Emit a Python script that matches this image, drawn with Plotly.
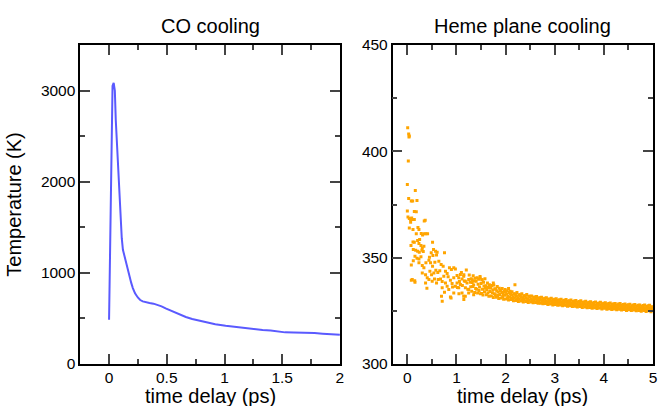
import plotly.graph_objects as go

# ---------------- data ----------------
# Left panel: CO cooling (line)
co_time = [0.0, 0.015, 0.03, 0.04, 0.05, 0.058, 0.068, 0.078, 0.088, 0.098, 0.11, 0.12,
           0.135, 0.15, 0.165, 0.178, 0.192, 0.206, 0.225, 0.249, 0.27, 0.292, 0.32, 0.35,
           0.385, 0.42, 0.455, 0.49, 0.55, 0.61, 0.665, 0.72, 0.78, 0.84, 0.92, 1.01,
           1.1, 1.18, 1.267, 1.33, 1.4, 1.46, 1.525, 1.6, 1.65, 1.72, 1.78, 1.85, 1.9, 1.95, 2.0]
co_temp = [486, 1800, 3050, 3085, 3000, 2680, 2400, 2130, 1880, 1620, 1380, 1253,
           1170, 1107, 1030, 961, 890, 833, 775, 730, 702, 687, 676, 669,
           662, 650, 632, 610, 575, 541, 516, 493, 474, 456, 437, 420,
           405, 392, 378, 372, 368, 357, 347, 345, 345, 342, 340, 333, 327, 323, 321]

# Right panel: heme plane cooling (scatter), early sparse region
heme_early_time = [0.007, 0.027, 0.04, 0.034, 0.02, 0.0, 0.162, 0.027, 0.081, 0.108, 0.196, 0.0,
                   0.142, 0.182, 0.013, 0.04, 0.067, 0.088, 0.121, 0.142, 0.067, 0.344, 0.364,
                   0.04, 0.115, 0.216, 0.236, 0.182, 0.283, 0.31, 0.344, 0.378, 0.412, 0.115,
                   0.142, 0.074, 0.209, 0.236, 0.277, 0.304, 0.337, 0.513, 0.121, 0.169, 0.209,
                   0.243, 0.297, 0.324, 0.533, 0.574, 0.607, 0.594, 0.155, 0.196, 0.236, 0.277,
                   0.486, 0.081, 0.121, 0.236, 0.304, 0.337, 0.378, 0.439, 0.472, 0.513, 0.56,
                   0.641, 0.756, 0.688, 0.729, 0.081, 0.155, 0.304, 0.371, 0.405, 0.459, 0.493,
                   0.54, 0.371, 0.398, 0.439, 0.506, 0.553, 0.594, 0.628, 0.675, 0.709, 0.742,
                   0.776, 0.81, 0.857, 0.897, 0.945, 0.978, 0.709, 0.756, 0.695, 0.81, 0.877,
                   0.911, 0.945, 1.012, 1.046, 1.08, 1.113, 1.147, 1.181, 1.215, 1.248, 1.282,
                   0.877, 0.978, 1.046, 1.113, 1.147, 1.181, 1.248, 1.08, 1.012, 0.776, 0.843,
                   0.945, 0.1, 0.15, 0.71, 0.89, 1.15, 1.02, 1.06, 1.1, 1.12, 1.16, 1.2, 1.23,
                   1.26, 1.29, 1.05, 1.15, 1.32, 1.48, 1.52, 1.25, 1.18, 1.35, 1.75, 2.06, 2.19,
                   0.25, 0.45, 0.58, 0.62, 0.83, 0.92, 0.66, 0.52]
heme_early_temp = [411.1, 408.1, 407.2, 406.7, 395.4, 384.4, 381.6, 377.8, 376.6, 376.6, 376.9, 371.9,
                   371.7, 371.6, 369.1, 368.4, 368.0, 368.6, 368.0, 368.0, 366.7, 367.2, 367.6,
                   364.0, 363.2, 364.2, 363.2, 361.2, 361.4, 360.6, 361.2, 361.2, 361.2, 357.4,
                   357.3, 355.7, 358.1, 356.7, 355.7, 354.6, 355.4, 357.3, 353.8, 353.5, 353.0,
                   352.6, 353.5, 352.9, 353.8, 353.0, 352.6, 351.3, 350.7, 349.7, 349.4, 350.4,
                   352.3, 346.6, 348.5, 347.6, 346.3, 345.2, 347.6, 348.8, 347.6, 346.0, 347.9,
                   348.3, 352.3, 346.8, 346.0, 339.4, 338.4, 342.8, 342.0, 340.5, 343.6, 342.0,
                   342.8, 338.1, 335.6, 339.7, 338.9, 340.0, 338.1, 339.7, 340.0, 338.8, 341.3,
                   343.6, 342.5, 345.2, 344.4, 345.2, 344.7, 335.8, 333.7, 331.9, 336.6, 339.4,
                   337.8, 340.5, 341.6, 340.5, 342.1, 340.0, 341.3, 338.9, 338.1, 339.7, 338.4,
                   331.5, 336.6, 335.8, 333.4, 331.9, 335.8, 333.4, 337.4, 338.1, 338.1, 335.0,
                   333.4, 339.7, 339.2, 329.5, 331.0, 330.3, 336.0, 338.8, 343.0, 336.9, 339.0, 344.2, 335.2,
                   341.8, 336.3, 333.0, 342.0, 339.6, 340.4, 339.6, 335.0, 331.9, 332.6, 338.1, 335.5, 337.3,
                   358.5, 350.2, 344.1, 343.0, 341.0, 336.2, 343.9, 351.0]

# Right panel: dense band (x from 1.30 to 5.00 in steps of 0.01)
heme_band_time = [
    1.30, 1.31, 1.32, 1.33, 1.34, 1.35, 1.36, 1.37, 1.38, 1.39,
    1.40, 1.41, 1.42, 1.43, 1.44, 1.45, 1.46, 1.47, 1.48, 1.49,
    1.50, 1.51, 1.52, 1.53, 1.54, 1.55, 1.56, 1.57, 1.58, 1.59,
    1.60, 1.61, 1.62, 1.63, 1.64, 1.65, 1.66, 1.67, 1.68, 1.69,
    1.70, 1.71, 1.72, 1.73, 1.74, 1.75, 1.76, 1.77, 1.78, 1.79,
    1.80, 1.81, 1.82, 1.83, 1.84, 1.85, 1.86, 1.87, 1.88, 1.89,
    1.90, 1.91, 1.92, 1.93, 1.94, 1.95, 1.96, 1.97, 1.98, 1.99,
    2.00, 2.01, 2.02, 2.03, 2.04, 2.05, 2.06, 2.07, 2.08, 2.09,
    2.10, 2.11, 2.12, 2.13, 2.14, 2.15, 2.16, 2.17, 2.18, 2.19,
    2.20, 2.21, 2.22, 2.23, 2.24, 2.25, 2.26, 2.27, 2.28, 2.29,
    2.30, 2.31, 2.32, 2.33, 2.34, 2.35, 2.36, 2.37, 2.38, 2.39,
    2.40, 2.41, 2.42, 2.43, 2.44, 2.45, 2.46, 2.47, 2.48, 2.49,
    2.50, 2.51, 2.52, 2.53, 2.54, 2.55, 2.56, 2.57, 2.58, 2.59,
    2.60, 2.61, 2.62, 2.63, 2.64, 2.65, 2.66, 2.67, 2.68, 2.69,
    2.70, 2.71, 2.72, 2.73, 2.74, 2.75, 2.76, 2.77, 2.78, 2.79,
    2.80, 2.81, 2.82, 2.83, 2.84, 2.85, 2.86, 2.87, 2.88, 2.89,
    2.90, 2.91, 2.92, 2.93, 2.94, 2.95, 2.96, 2.97, 2.98, 2.99,
    3.00, 3.01, 3.02, 3.03, 3.04, 3.05, 3.06, 3.07, 3.08, 3.09,
    3.10, 3.11, 3.12, 3.13, 3.14, 3.15, 3.16, 3.17, 3.18, 3.19,
    3.20, 3.21, 3.22, 3.23, 3.24, 3.25, 3.26, 3.27, 3.28, 3.29,
    3.30, 3.31, 3.32, 3.33, 3.34, 3.35, 3.36, 3.37, 3.38, 3.39,
    3.40, 3.41, 3.42, 3.43, 3.44, 3.45, 3.46, 3.47, 3.48, 3.49,
    3.50, 3.51, 3.52, 3.53, 3.54, 3.55, 3.56, 3.57, 3.58, 3.59,
    3.60, 3.61, 3.62, 3.63, 3.64, 3.65, 3.66, 3.67, 3.68, 3.69,
    3.70, 3.71, 3.72, 3.73, 3.74, 3.75, 3.76, 3.77, 3.78, 3.79,
    3.80, 3.81, 3.82, 3.83, 3.84, 3.85, 3.86, 3.87, 3.88, 3.89,
    3.90, 3.91, 3.92, 3.93, 3.94, 3.95, 3.96, 3.97, 3.98, 3.99,
    4.00, 4.01, 4.02, 4.03, 4.04, 4.05, 4.06, 4.07, 4.08, 4.09,
    4.10, 4.11, 4.12, 4.13, 4.14, 4.15, 4.16, 4.17, 4.18, 4.19,
    4.20, 4.21, 4.22, 4.23, 4.24, 4.25, 4.26, 4.27, 4.28, 4.29,
    4.30, 4.31, 4.32, 4.33, 4.34, 4.35, 4.36, 4.37, 4.38, 4.39,
    4.40, 4.41, 4.42, 4.43, 4.44, 4.45, 4.46, 4.47, 4.48, 4.49,
    4.50, 4.51, 4.52, 4.53, 4.54, 4.55, 4.56, 4.57, 4.58, 4.59,
    4.60, 4.61, 4.62, 4.63, 4.64, 4.65, 4.66, 4.67, 4.68, 4.69,
    4.70, 4.71, 4.72, 4.73, 4.74, 4.75, 4.76, 4.77, 4.78, 4.79,
    4.80, 4.81, 4.82, 4.83, 4.84, 4.85, 4.86, 4.87, 4.88, 4.89,
    4.90, 4.91, 4.92, 4.93, 4.94, 4.95, 4.96, 4.97, 4.98, 4.99,
    5.00]
heme_band_temp = [
    340.1, 334.2, 338.3, 336.4, 341.5, 337.2, 339.0, 333.6, 340.3, 335.5,
    338.9, 335.1, 340.6, 333.4, 337.5, 339.8, 334.6, 336.2, 341.2, 333.0,
    337.9, 333.1, 339.6, 335.2, 332.4, 338.4, 336.7, 334.0, 340.1, 335.6,
    336.8, 332.6, 334.9, 338.1, 333.4, 336.0, 331.9, 337.3, 334.1, 335.7,
    335.9, 332.0, 336.9, 333.5, 334.8, 331.3, 337.2, 333.0, 335.4, 332.6,
    335.1, 331.4, 334.3, 336.4, 332.2, 333.9, 330.8, 335.6, 332.7, 334.6,
    334.8, 331.0, 333.6, 335.5, 331.7, 333.1, 330.4, 334.2, 332.3, 335.0,
    333.9, 330.6, 332.8, 334.5, 331.2, 332.0, 330.1, 333.6, 331.5, 334.2,
    333.2, 330.3, 332.5, 334.0, 330.8, 331.6, 329.7, 333.0, 331.1, 332.8,
    332.9, 329.9, 331.8, 333.6, 330.4, 331.2, 329.4, 332.6, 330.7, 332.2,
    332.6, 329.6, 331.4, 333.0, 330.1, 330.8, 329.2, 332.1, 330.3, 331.8,
    332.1, 329.4, 331.0, 332.7, 329.8, 330.5, 328.9, 331.8, 330.1, 331.5,
    331.8, 329.2, 330.6, 332.0, 329.5, 330.2, 328.8, 331.4, 329.9, 331.1,
    331.5, 328.9, 330.4, 331.7, 329.2, 329.9, 328.6, 331.0, 329.6, 330.8,
    331.2, 328.6, 330.1, 331.4, 328.9, 329.6, 328.3, 330.7, 329.3, 330.5,
    330.9, 328.4, 329.8, 331.1, 328.6, 329.3, 328.0, 330.4, 329.0, 330.2,
    330.6, 328.2, 329.6, 330.9, 328.4, 329.1, 327.8, 330.2, 328.8, 330.0,
    330.4, 328.0, 329.4, 330.7, 328.2, 328.9, 327.6, 330.0, 328.6, 329.8,
    330.2, 327.8, 329.2, 330.5, 328.0, 328.7, 327.4, 329.8, 328.4, 329.6,
    330.0, 327.6, 329.0, 330.3, 327.8, 328.5, 327.2, 329.6, 328.2, 329.4,
    329.8, 327.4, 328.8, 330.1, 327.6, 328.3, 327.0, 329.4, 328.0, 329.2,
    329.6, 327.2, 328.6, 329.9, 327.4, 328.1, 326.8, 329.2, 327.8, 329.0,
    329.4, 327.0, 328.4, 329.7, 327.2, 327.9, 326.6, 329.0, 327.6, 328.8,
    329.2, 326.8, 328.2, 329.5, 327.0, 327.7, 326.4, 328.8, 327.4, 328.6,
    329.0, 326.6, 328.0, 329.3, 326.8, 327.5, 326.2, 328.6, 327.2, 328.4,
    328.9, 326.5, 327.8, 329.1, 326.7, 327.3, 326.1, 328.4, 327.0, 328.2,
    328.7, 326.3, 327.7, 329.0, 326.5, 327.2, 325.9, 328.3, 326.9, 328.1,
    328.6, 326.2, 327.5, 328.8, 326.4, 327.0, 325.8, 328.1, 326.7, 327.9,
    328.4, 326.0, 327.4, 328.7, 326.2, 326.9, 325.6, 328.0, 326.6, 327.8,
    328.3, 325.9, 327.2, 328.5, 326.1, 326.8, 325.5, 327.8, 326.4, 327.6,
    328.2, 325.8, 327.1, 328.4, 326.0, 326.7, 325.4, 327.7, 326.3, 327.5,
    328.0, 325.6, 327.0, 328.2, 325.8, 326.5, 325.2, 327.6, 326.2, 327.4,
    327.9, 325.5, 326.8, 328.1, 325.7, 326.4, 325.1, 327.4, 326.0, 327.2,
    327.8, 325.4, 326.7, 328.0, 325.6, 326.3, 325.0, 327.3, 325.9, 327.1,
    327.6, 325.2, 326.6, 327.8, 325.4, 326.1, 324.8, 327.2, 325.8, 327.0,
    327.5, 325.1, 326.4, 327.7, 325.3, 326.0, 324.7, 327.0, 325.6, 326.8,
    327.4, 325.0, 326.3, 327.6, 325.2, 325.9, 324.6, 326.9, 325.5, 326.7,
    326.2]

titles = ["CO cooling", "Heme plane cooling"]
x_title = "time delay (ps)"
y_title = "Temperature (K)"

# ---------------- styling ----------------
W, H = 659, 406
PLOT_H = 406 - 45 - 42
FONT = "Liberation Sans, Arial, Helvetica, sans-serif"
BLUE = "#5a5aff"
ORANGE = "#ffa500"
TICKC = "#444444"

fig = go.Figure()
fig.add_trace(go.Scatter(x=co_time, y=co_temp, mode="lines",
                         line=dict(color=BLUE, width=2), xaxis="x", yaxis="y",
                         showlegend=False))
fig.add_trace(go.Scatter(x=heme_early_time + heme_band_time,
                         y=heme_early_temp + heme_band_temp, mode="markers",
                         marker=dict(color=ORANGE, size=3, symbol="square",
                                     line=dict(width=0)),
                         xaxis="x2", yaxis="y2", showlegend=False))

def axis_style(**kw):
    d = dict(showline=True, linecolor="black", linewidth=1.5, mirror="allticks",
             ticks="inside", ticklen=10, tickwidth=1.5, tickcolor=TICKC,
             showgrid=False, zeroline=False,
             tickfont=dict(family=FONT, size=15.5, color="black"))
    d.update(kw)
    return d

left_dom = [80.7 / W, 342 / W]
right_dom = [395 / W, 657 / W]

def text_ann(text, x, y_px, **kw):
    d = dict(text=text, x=x, y=1 - (y_px - 45) / PLOT_H, xref="paper", yref="paper",
             xanchor="center", yanchor="middle", showarrow=False,
             font=dict(family=FONT, size=20, color="black"))
    d.update(kw)
    return d

fig.update_layout(
    width=W, height=H,
    margin=dict(l=0, r=0, t=45, b=42),
    paper_bgcolor="white", plot_bgcolor="white",
    font=dict(family=FONT, color="black"),
    xaxis=axis_style(domain=left_dom, range=[-0.25, 2], tick0=0, dtick=0.5,
                     ticklabelstandoff=-1,
                     minor=dict(ticks="inside", ticklen=5, tickwidth=1.5,
                                tickcolor=TICKC, dtick=0.25, tick0=0),
                     anchor="y"),
    yaxis=axis_style(domain=[0, 1], range=[0, 3500], tick0=0, dtick=1000,
                     minor=dict(ticks="inside", ticklen=5, tickwidth=1.5,
                                tickcolor=TICKC, dtick=500, tick0=0),
                     title=dict(text=y_title, font=dict(family=FONT, size=20), standoff=14),
                     anchor="x"),
    xaxis2=axis_style(domain=right_dom, range=[-0.3, 5], tick0=0, dtick=1,
                      ticklabelstandoff=-1,
                      minor=dict(ticks="inside", ticklen=5, tickwidth=1.5,
                                 tickcolor=TICKC, dtick=0.5, tick0=0),
                      anchor="y2"),
    yaxis2=axis_style(domain=[0, 1], range=[300, 450], tick0=300, dtick=50,
                      minor=dict(ticks="inside", ticklen=5, tickwidth=1.5,
                                 tickcolor=TICKC, dtick=25, tick0=300),
                      anchor="x2"),
    annotations=[
        text_ann(titles[0], sum(left_dom) / 2, 26),
        text_ann(titles[1], sum(right_dom) / 2, 26),
        text_ann(x_title, sum(left_dom) / 2, 396),
        text_ann(x_title, sum(right_dom) / 2, 396),
    ],
)

fig.write_html("out.html")
